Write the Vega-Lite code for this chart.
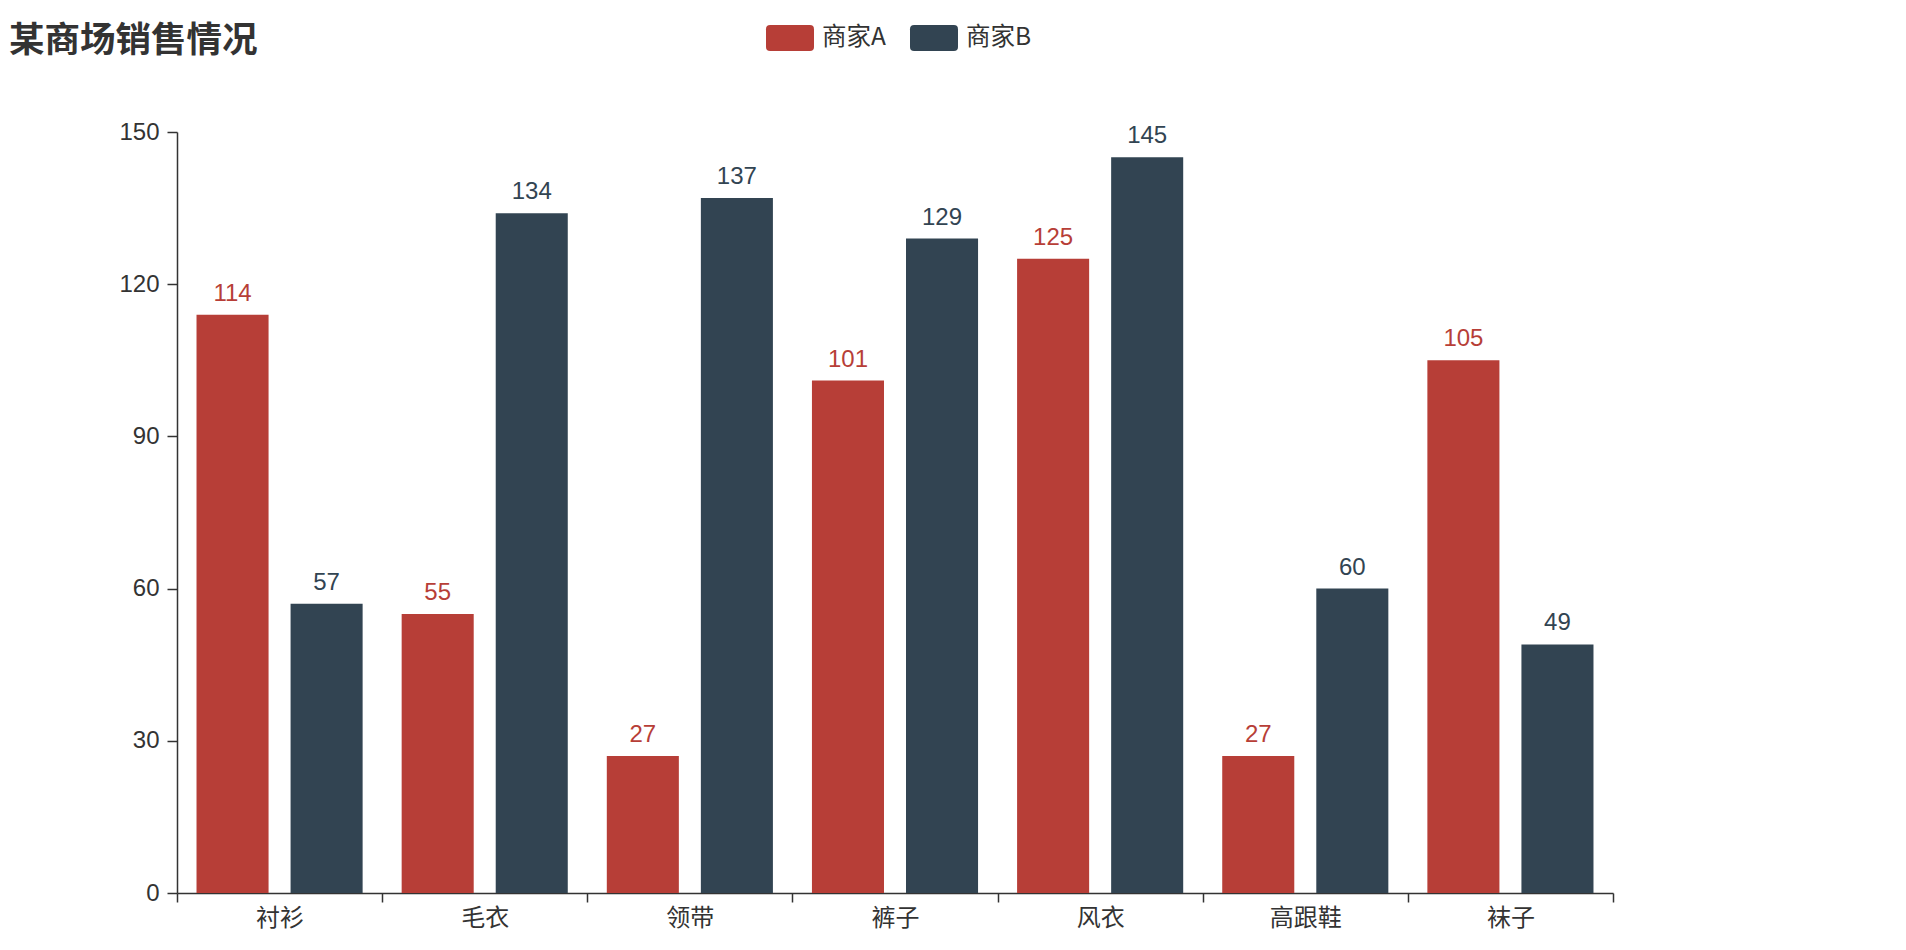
{
  "$schema": "https://vega.github.io/schema/vega-lite/v6.json",
  "width": 1436,
  "height": 761,
  "autosize": {"type": "none"},
  "padding": {"left": 177, "top": 132, "right": 293, "bottom": 57},
  "background": "white",
  "title": {
    "text": "某商场销售情况",
    "anchor": "start",
    "frame": "group",
    "dx": -168,
    "dy": 45,
    "offset": 0,
    "fontSize": 35.5,
    "fontWeight": "bold",
    "color": "#333333",
    "font": "Noto Sans CJK SC"
  },
  "data": {
    "values": [
      {"category": "衬衫", "merchant": "商家A", "sales": 114},
      {"category": "衬衫", "merchant": "商家B", "sales": 57},
      {"category": "毛衣", "merchant": "商家A", "sales": 55},
      {"category": "毛衣", "merchant": "商家B", "sales": 134},
      {"category": "领带", "merchant": "商家A", "sales": 27},
      {"category": "领带", "merchant": "商家B", "sales": 137},
      {"category": "裤子", "merchant": "商家A", "sales": 101},
      {"category": "裤子", "merchant": "商家B", "sales": 129},
      {"category": "风衣", "merchant": "商家A", "sales": 125},
      {"category": "风衣", "merchant": "商家B", "sales": 145},
      {"category": "高跟鞋", "merchant": "商家A", "sales": 27},
      {"category": "高跟鞋", "merchant": "商家B", "sales": 60},
      {"category": "袜子", "merchant": "商家A", "sales": 105},
      {"category": "袜子", "merchant": "商家B", "sales": 49}
    ]
  },
  "encoding": {
    "x": {
      "field": "category",
      "type": "nominal",
      "sort": ["衬衫", "毛衣", "领带", "裤子", "风衣", "高跟鞋", "袜子"],
      "scale": {"paddingInner": 0, "paddingOuter": 0},
      "axis": {
        "title": null,
        "labelAngle": 0,
        "tickBand": "extent",
        "tickSize": 9,
        "tickWidth": 1.5,
        "tickColor": "#333333",
        "domainColor": "#333333",
        "domainWidth": 1.5,
        "labelPadding": 4,
        "labelFontSize": 24,
        "labelColor": "#333333",
        "labelFont": "Noto Sans CJK SC",
        "grid": false
      }
    },
    "xOffset": {
      "field": "merchant",
      "type": "nominal",
      "scale": {"paddingInner": 0.234, "paddingOuter": 0.2075}
    },
    "y": {
      "field": "sales",
      "type": "quantitative",
      "scale": {"domain": [0, 150], "nice": false},
      "axis": {
        "title": null,
        "values": [0, 30, 60, 90, 120, 150],
        "tickSize": 10,
        "tickWidth": 1.5,
        "tickColor": "#333333",
        "domainColor": "#333333",
        "domainWidth": 1.5,
        "labelPadding": 8,
        "labelFontSize": 24,
        "labelColor": "#333333",
        "labelFont": "Liberation Sans, Noto Sans CJK SC",
        "grid": false
      }
    },
    "color": {
      "field": "merchant",
      "type": "nominal",
      "scale": {"domain": ["商家A", "商家B"], "range": ["#b73e37", "#324452"]},
      "legend": {
        "orient": "none",
        "legendX": 589,
        "legendY": -118,
        "direction": "horizontal",
        "title": null,
        "symbolType": "M-0.83,-0.54 L0.83,-0.54 Q1,-0.54 1,-0.37 L1,0.37 Q1,0.54 0.83,0.54 L-0.83,0.54 Q-1,0.54 -1,0.37 L-1,-0.37 Q-1,-0.54 -0.83,-0.54 Z",
        "symbolSize": 2304,
        "symbolStrokeWidth": 0,
        "symbolOpacity": 1,
        "labelFontSize": 24.5,
        "labelColor": "#333333",
        "labelFont": "Noto Sans CJK SC",
        "labelOffset": 8,
        "columnPadding": 24
      }
    }
  },
  "layer": [
    {"mark": {"type": "bar"}},
    {
      "mark": {
        "type": "text",
        "baseline": "alphabetic",
        "dy": -14,
        "fontSize": 24,
        "font": "Liberation Sans, Noto Sans CJK SC"
      },
      "encoding": {"text": {"field": "sales", "type": "quantitative"}}
    }
  ],
  "config": {"view": {"stroke": null}}
}
